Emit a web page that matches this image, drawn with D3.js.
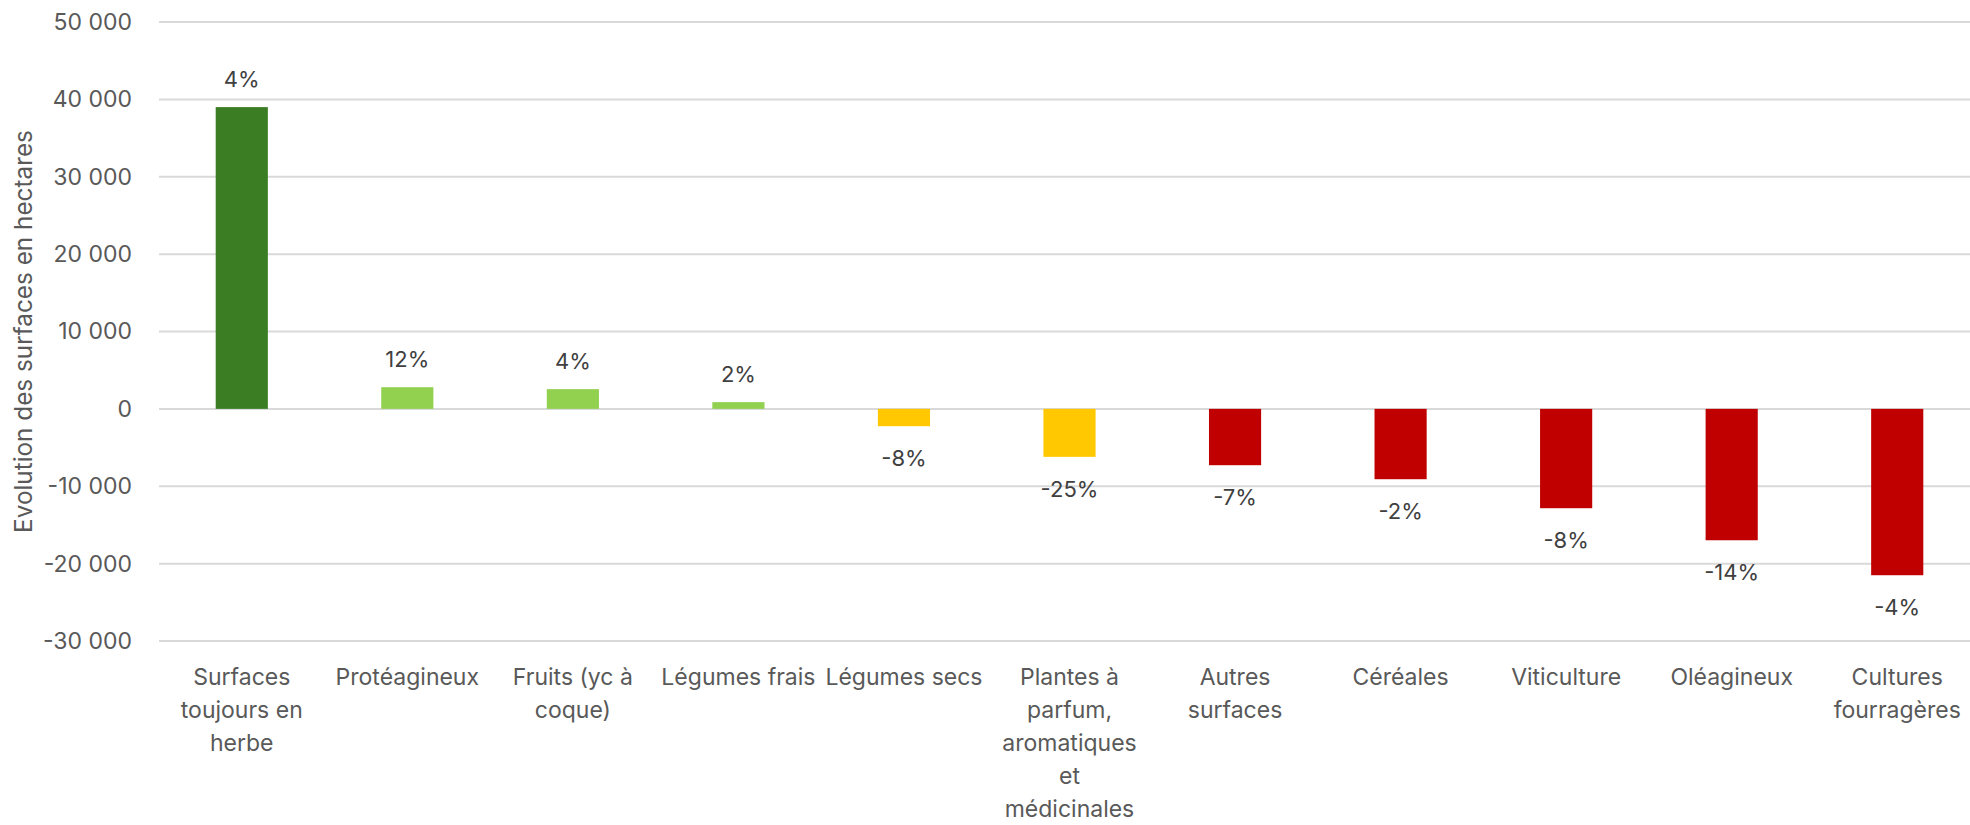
<!DOCTYPE html>
<html>
<head>
<meta charset="utf-8">
<script src="https://cdn.jsdelivr.net/npm/d3@7"></script>
<style>
  body { margin: 0; background: #fff; }
  svg { display: block; }
</style>
</head>
<body>
<div id="chart"></div>
<script>
// categories (label lines as wrapped in the original)
const categories = [
  "Surfaces toujours en herbe",
  "Protéagineux",
  "Fruits (yc à coque)",
  "Légumes frais",
  "Légumes secs",
  "Plantes à parfum, aromatiques et médicinales",
  "Autres surfaces",
  "Céréales",
  "Viticulture",
  "Oléagineux",
  "Cultures fourragères"
];
const labelLines = [
  ["Surfaces", "toujours en", "herbe"],
  ["Protéagineux"],
  ["Fruits (yc à", "coque)"],
  ["Légumes frais"],
  ["Légumes secs"],
  ["Plantes à", "parfum,", "aromatiques", "et", "médicinales"],
  ["Autres", "surfaces"],
  ["Céréales"],
  ["Viticulture"],
  ["Oléagineux"],
  ["Cultures", "fourragères"]
];
// evolution in hectares
const values = [39000, 2800, 2550, 870, -2240, -6200, -7280, -9090, -12840, -16980, -21500];
// relative evolution shown above / below the bars
const pctLabels = ["4%", "12%", "4%", "2%", "-8%", "-25%", "-7%", "-2%", "-8%", "-14%", "-4%"];
// colour group of each bar
const groups = ["strong", "up", "up", "up", "down", "down", "loss", "loss", "loss", "loss", "loss"];
const yTicks = [-30000, -20000, -10000, 0, 10000, 20000, 30000, 40000, 50000];

const width = 1970, height = 825;
const colors = { strong: "#3b7d23", up: "#92d050", down: "#ffc800", loss: "#c00000" };
const font = "Inter, 'Open Sans', sans-serif";

const svg = d3.select("#chart").append("svg")
  .attr("width", width)
  .attr("height", height);

const x = d3.scaleBand()
  .domain(categories)
  .range([159, 1980])
  .padding(0);

const y = d3.scaleLinear()
  .domain([-30000, 50000])
  .range([641, 22]);

// "10 000", "-20 000" with a plain hyphen
const fmt = (v) => d3.format(",")(v).replace(/,/g, " ").replace("\u2212", "-");

// gridlines
svg.append("g")
  .selectAll("line")
  .data(yTicks)
  .join("line")
  .attr("x1", 159)
  .attr("x2", width)
  .attr("y1", (d) => y(d))
  .attr("y2", (d) => y(d))
  .attr("stroke", "#d9d9d9")
  .attr("stroke-width", 2);

// y axis labels
const yAxis = svg.append("g")
  .attr("transform", "translate(132,0)")
  .call(d3.axisLeft(y).tickValues(yTicks).tickSize(0).tickPadding(0).tickFormat(fmt));
yAxis.select(".domain").remove();
yAxis.selectAll("text")
  .attr("fill", "#595959")
  .style("font-family", font)
  .style("font-size", "23px");

// y title
svg.append("text")
  .attr("transform", "translate(32," + (y(10000)) + ")rotate(-90)")
  .attr("text-anchor", "middle")
  .attr("fill", "#595959")
  .style("font-family", font)
  .style("font-size", "24.3px")
  .text("Evolution des surfaces en hectares");

// bars
const barW = x.bandwidth() * 0.315;
svg.append("g")
  .selectAll("rect")
  .data(values)
  .join("rect")
  .attr("x", (d, i) => x(categories[i]) + x.bandwidth() / 2 - barW / 2)
  .attr("y", (d) => y(Math.max(0, d)))
  .attr("width", barW)
  .attr("height", (d) => Math.abs(y(d) - y(0)))
  .attr("fill", (d, i) => colors[groups[i]]);

// data labels
svg.append("g")
  .selectAll("text")
  .data(values)
  .join("text")
  .attr("x", (d, i) => x(categories[i]) + x.bandwidth() / 2)
  .attr("y", (d) => (d >= 0 ? y(d) - 20 : y(d) + 40))
  .attr("text-anchor", "middle")
  .attr("fill", "#404040")
  .style("font-family", font)
  .style("font-size", "22px")
  .text((d, i) => pctLabels[i]);

// category labels
const cat = svg.append("g")
  .selectAll("text")
  .data(categories)
  .join("text")
  .attr("x", (d) => x(d) + x.bandwidth() / 2)
  .attr("y", 685)
  .attr("text-anchor", "middle")
  .attr("fill", "#595959")
  .style("font-family", font)
  .style("font-size", "23px");

cat.selectAll("tspan")
  .data((d, i) => labelLines[i])
  .join("tspan")
  .attr("x", function () { return d3.select(this.parentNode).attr("x"); })
  .attr("dy", (d, j) => (j === 0 ? 0 : 33))
  .text((d) => d);
</script>
</body>
</html>
